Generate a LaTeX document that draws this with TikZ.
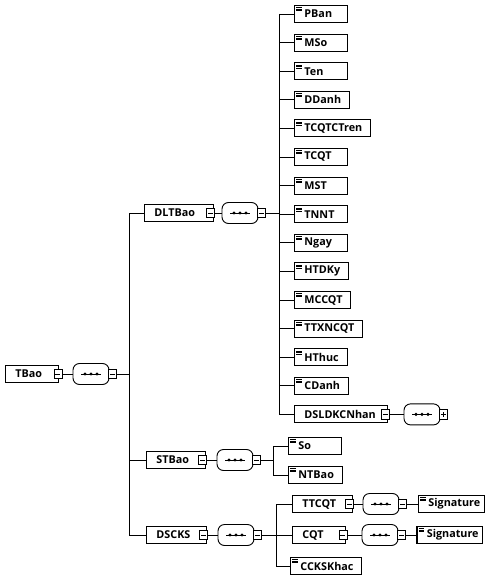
\documentclass[tikz,border=0pt]{standalone}
\usepackage{fontspec}
\setmainfont{Open Sans}
% box text: left padding, right padding, least width 53pt
\newcommand\lbl[2][8pt]{\setbox0\hbox{\hspace{10pt}#2\hspace{#1}}\ifdim\wd0<53pt\wd0=53pt\fi\box0}

\begin{document}
\begin{tikzpicture}[x=1pt, y=-1pt,
  wire/.style={line width=.7pt},
  elem/.style={draw, line width=.9pt, fill=white, rectangle, anchor=west,
    minimum height=17pt, inner xsep=0pt, inner ysep=2pt,
    font=\fontsize{10.8}{12}\selectfont\bfseries},
  leaf/.style={elem, path picture={
    \foreach \k in {2.2,3.7,5.2}
      \draw[black, line width=.5pt] ([xshift=2pt,yshift=-\k pt]path picture bounding box.north west) -- ++(5.5pt,0);}},
  tog/.style={draw, fill=white, line width=.7pt, minimum width=8pt, minimum height=9.5pt, inner sep=0pt,
    path picture={\draw[black, line width=.6pt] ([xshift=-2.5pt]path picture bounding box.center) -- ([xshift=2.5pt]path picture bounding box.center);}},
  togplus/.style={tog, path picture={
    \draw[black, line width=.6pt] ([xshift=-2.5pt]path picture bounding box.center) -- ([xshift=2.5pt]path picture bounding box.center);
    \draw[black, line width=.6pt] ([yshift=-2.5pt]path picture bounding box.center) -- ([yshift=2.5pt]path picture bounding box.center);}},
  seq/.style={draw, line width=.9pt, fill=white, rectangle, rounded corners=6.5pt,
    minimum width=36pt, minimum height=21pt, inner sep=0pt, path picture={
    \draw[black, line width=.9pt] ([xshift=-10pt]path picture bounding box.center) -- ([xshift=10pt]path picture bounding box.center);
    \foreach \d in {-6,0,6}
      \fill[black] ([xshift=\d pt]path picture bounding box.center) circle (1.7pt);}}]
  \useasboundingbox (0,0) rectangle (489,580);

  % root
  \node[elem] (tbao) at (5,374) {\lbl[14pt]{TBao}};
  \node[tog] (tbaoT) at ([xshift=-1pt]tbao.east) {};
  \node[seq] (tbaoS) at (91,374) {};
  \node[tog] (tbaoST) at ([xshift=3pt]tbaoS.east) {};
  \coordinate (rootSp) at (129,0);
  \draw[wire] (tbaoT) -- (tbaoS);
  \draw[wire] (tbaoST) -- (rootSp |- tbaoST);

  % level 1
  \node[elem] (dlt) at (144,213) {\lbl[18pt]{DLTBao}};
  \node[elem] (stb) at (146,460) {\lbl[16pt]{STBao}};
  \node[elem] (dsc) at (146,535) {\lbl[16pt]{DSCKS}};
  \draw[wire] (rootSp |- dlt.west) -- (rootSp |- dsc.west);
  \foreach \n in {dlt,stb,dsc} {
    \draw[wire] (rootSp |- \n.west) -- (\n.west);
    \node[tog] (\n T) at ([xshift=-3pt]\n.east) {};
  }

  % DLTBao
  \node[seq] (dltS) at (240,213) {};
  \node[tog] (dltST) at ([xshift=3pt]dltS.east) {};
  \coordinate (dltSp) at (279,0);
  \draw[wire] (dltT) -- (dltS);
  \draw[wire] (dltST) -- (dltSp |- dltST);
  \foreach \t [count=\i from 0] in {PBan,MSo,Ten,DDanh,TCQTCTren,TCQT,MST,TNNT,Ngay,HTDKy,MCCQT,TTXNCQT,HThuc,CDanh} {
    \node[leaf] (dl\i) at (294,{14+28.6*\i}) {\lbl{\t}};
    \draw[wire] (dltSp |- dl\i.west) -- (dl\i.west);
  }
  \node[elem] (dsl) at (294,414.4) {\lbl[12pt]{DSLDKCNhan}};
  \node[tog] (dslT) at ([xshift=-3pt]dsl.east) {};
  \node[seq] (dslS) at (422,414.4) {};
  \node[togplus] (dslST) at ([xshift=3pt]dslS.east) {};
  \draw[wire] (dltSp |- dl0.west) -- (dltSp |- dsl.west) -- (dsl.west);
  \draw[wire] (dslT) -- (dslS);

  % STBao
  \node[seq] (stbS) at (235,460) {};
  \node[tog] (stbST) at ([xshift=3pt]stbS.east) {};
  \coordinate (stbSp) at (273,0);
  \node[leaf] (so) at (288,446) {\lbl{So}};
  \node[leaf] (ntb) at (288,475) {\lbl{NTBao}};
  \draw[wire] (stbT) -- (stbS);
  \draw[wire] (stbST) -- (stbSp |- stbST);
  \draw[wire] (so.west) -| (stbSp |- ntb.west) -- (ntb.west);

  % DSCKS
  \node[seq] (dscS) at (236,535) {};
  \node[tog] (dscST) at ([xshift=3pt]dscS.east) {};
  \coordinate (dscSp) at (276,0);
  \draw[wire] (dscT) -- (dscS);
  \draw[wire] (dscST) -- (dscSp |- dscST);
  \node[elem] (ttc) at (292,504) {\lbl[16pt]{TTCQT}};
  \node[elem] (cqt) at (292,535) {\lbl[16pt]{CQT}};
  \node[leaf] (cck) at (290,566) {\lbl{CCKSKhac}};
  \draw[wire] (ttc.west) -| (dscSp |- cck.west) -- (cck.west);
  \draw[wire] (dscSp |- cqt.west) -- (cqt.west);

  \node[tog] (ttcT) at ([xshift=-3pt]ttc.east) {};
  \node[seq] (ttcS) at (381,504) {};
  \node[tog] (ttcST) at ([xshift=3pt]ttcS.east) {};
  \node[leaf] (sig1) at (418,504) {\lbl[4pt]{Signature}};
  \draw[wire] (ttcT) -- (ttcS);
  \draw[wire] (ttcST) -- (sig1);

  \node[tog] (cqtT) at ([xshift=-3pt]cqt.east) {};
  \node[seq] (cqtS) at (380,535) {};
  \node[tog] (cqtST) at ([xshift=3pt]cqtS.east) {};
  \node[leaf, line width=1.6pt] (sig2) at (416,535) {\lbl[4pt]{Signature}};
  \draw[wire] (cqtT) -- (cqtS);
  \draw[wire] (cqtST) -- (sig2);
\end{tikzpicture}
\end{document}
